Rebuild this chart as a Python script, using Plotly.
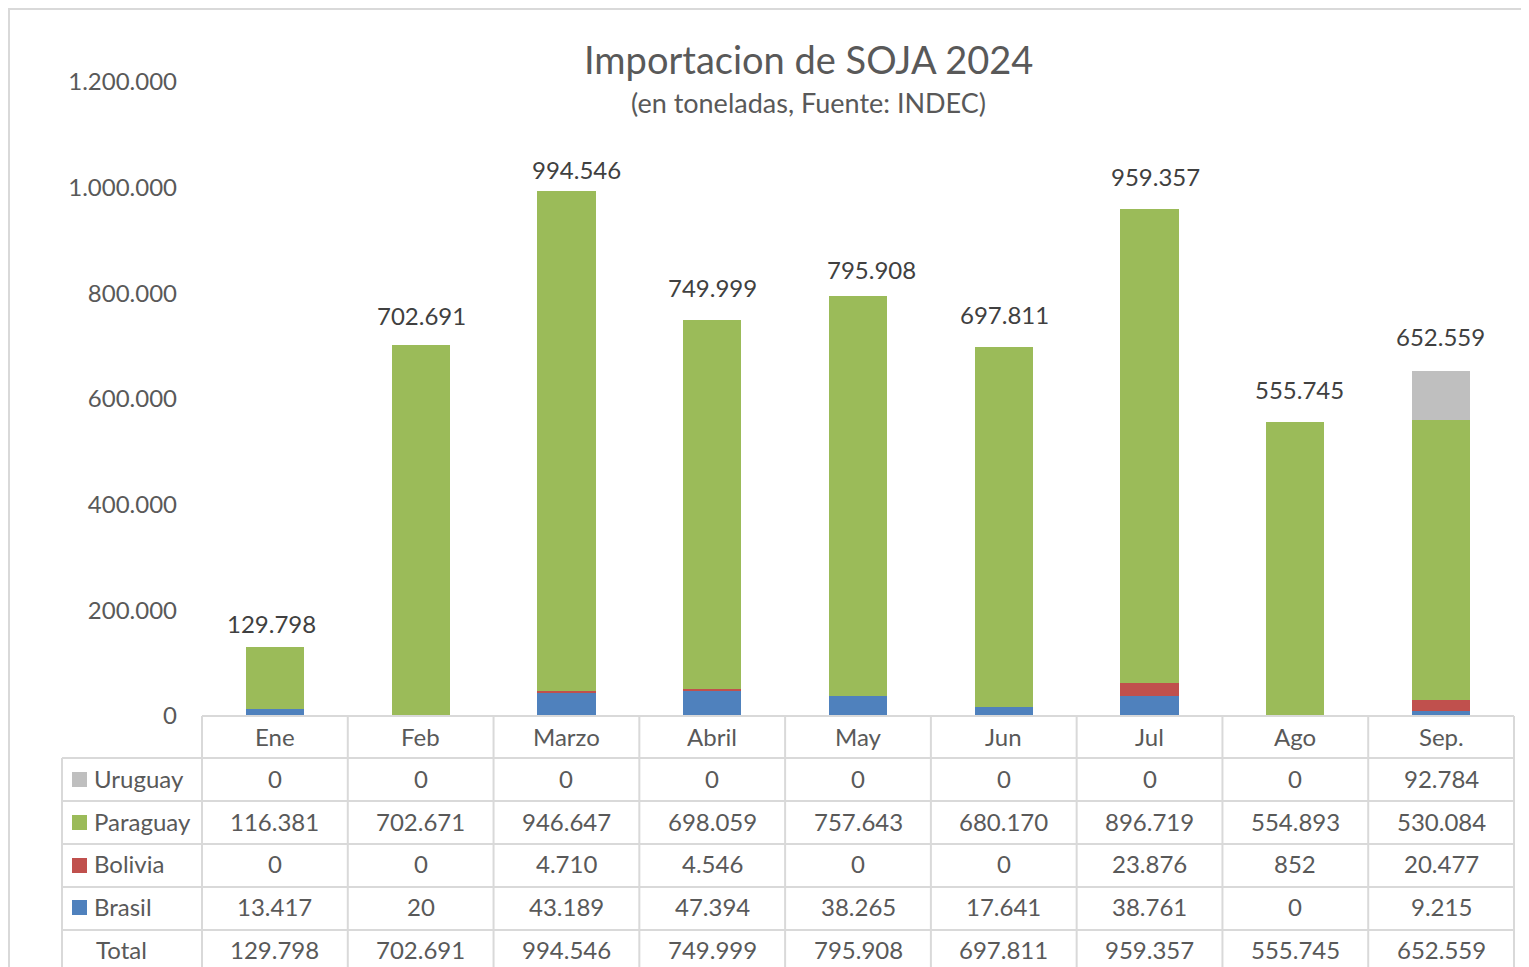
import plotly.graph_objects as go

meses = ["Ene", "Feb", "Marzo", "Abril", "May", "Jun", "Jul", "Ago", "Sep."]
brasil = [13417, 20, 43189, 47394, 38265, 17641, 38761, 0, 9215]
bolivia = [0, 0, 4710, 4546, 0, 0, 23876, 852, 20477]
paraguay = [116381, 702671, 946647, 698059, 757643, 680170, 896719, 554893, 530084]
uruguay = [0, 0, 0, 0, 0, 0, 0, 0, 92784]
total = [129798, 702691, 994546, 749999, 795908, 697811, 959357, 555745, 652559]

# hand-placed label nudges (px), as in the original chart
lbl_dx = [-3, 1, 10, 0, 13, 1, 6, 4, -1]
lbl_dy = [7, 13, 5, 16, 10, 16, 16, 16, 18]

# page has an 8px body margin, so the figure is drawn 8px in from the corner
OFF = 8
W, H = 1529 - OFF, 967 - OFF
X0, X1, YB, YT = 202, 1514, 716, 82
FONT = "Lato, 'Open Sans', sans-serif"
GRID = "#D9D9D9"


def px(x):
    return (x - X0) / (X1 - X0)


def py(y):
    return (YB - y) / (YB - YT)


def fmt(v):
    return f"{v:,}".replace(",", ".")


series = [
    ("Brasil", brasil, "#4F81BD"),
    ("Bolivia", bolivia, "#C0504D"),
    ("Paraguay", paraguay, "#9BBB59"),
    ("Uruguay", uruguay, "#BFBFBF"),
]

fig = go.Figure()
for name, vals, col in series:
    fig.add_trace(go.Bar(x=meses, y=vals, name=name, marker=dict(color=col, line=dict(width=0))))

shapes = []
ann = []

# outer chart border
shapes.append(dict(type="rect", xref="paper", yref="paper", x0=px(9), x1=px(1540),
                   y0=py(9), y1=py(1000), line=dict(color=GRID, width=2), layer="below"))

# totals above bars
for m, t, dx, dy in zip(meses, total, lbl_dx, lbl_dy):
    ann.append(dict(x=m, y=t, xref="x", yref="y", text=fmt(t), showarrow=False,
                    yanchor="bottom", xshift=dx, yshift=dy, font=dict(size=24, color="#404040")))

# data table
row_lines = [716, 758, 801, 844, 887, 930]
col_lines = [X0 + i * (X1 - X0) / 9 for i in range(10)]
shapes.append(dict(type="line", xref="paper", yref="paper", x0=px(X0), x1=px(X1),
                   y0=py(716), y1=py(716), line=dict(color=GRID, width=2)))
for y in row_lines[1:]:
    shapes.append(dict(type="line", xref="paper", yref="paper", x0=px(62), x1=px(X1),
                       y0=py(y), y1=py(y), line=dict(color=GRID, width=2)))
for x in col_lines:
    shapes.append(dict(type="line", xref="paper", yref="paper", x0=px(x), x1=px(x),
                       y0=py(716), y1=py(1000), line=dict(color=GRID, width=2)))
shapes.append(dict(type="line", xref="paper", yref="paper", x0=px(62), x1=px(62),
                   y0=py(758), y1=py(1000), line=dict(color=GRID, width=2)))

tfont = dict(size=24, color="#595959")
for m in meses:
    ann.append(dict(x=m, y=py(736), xref="x", yref="paper", text=m, showarrow=False,
                    xanchor="center", yanchor="middle", font=tfont))

rows = [("Uruguay", uruguay, "#BFBFBF", 778), ("Paraguay", paraguay, "#9BBB59", 821),
        ("Bolivia", bolivia, "#C0504D", 864), ("Brasil", brasil, "#4F81BD", 906)]
for name, vals, col, yc in rows:
    shapes.append(dict(type="rect", xref="paper", yref="paper", x0=px(72), x1=px(87),
                       y0=py(yc - 6), y1=py(yc + 9), fillcolor=col, line=dict(width=0)))
    ann.append(dict(x=px(92), y=py(yc), xref="paper", yref="paper", text=name, showarrow=False,
                    xanchor="left", yanchor="middle", font=tfont))
    for m, v in zip(meses, vals):
        ann.append(dict(x=m, y=py(yc), xref="x", yref="paper", text=fmt(v), showarrow=False,
                        xanchor="center", yanchor="middle", font=tfont))
ann.append(dict(x=px(121), y=py(949), xref="paper", yref="paper", text="Total", showarrow=False,
                xanchor="center", yanchor="middle", font=tfont))
for m, v in zip(meses, total):
    ann.append(dict(x=m, y=py(949), xref="x", yref="paper", text=fmt(v), showarrow=False,
                    xanchor="center", yanchor="middle", font=tfont))

# title
ann.append(dict(x=px(808), y=py(59), xref="paper", yref="paper", text="Importacion de SOJA 2024",
                showarrow=False, xanchor="center", yanchor="middle", font=dict(size=38, color="#595959")))
ann.append(dict(x=px(808), y=py(102), xref="paper", yref="paper", text="(en toneladas, Fuente: INDEC)",
                showarrow=False, xanchor="center", yanchor="middle", font=dict(size=27, color="#595959")))

fig.update_layout(
    width=W, height=H, barmode="stack", bargap=0.6, showlegend=False,
    margin=dict(l=X0 - OFF, r=1529 - X1, t=YT - OFF, b=967 - YB),
    paper_bgcolor="white", plot_bgcolor="white", separators=",.",
    font=dict(family=FONT, color="#595959"),
    shapes=shapes, annotations=ann,
)
fig.update_xaxes(showticklabels=False, showgrid=False, showline=False, zeroline=False, ticks="")
fig.update_yaxes(range=[0, 1200000], tickvals=[0, 200000, 400000, 600000, 800000, 1000000, 1200000],
                 tickformat=",d", showgrid=False, zeroline=False, showline=False,
                 tickfont=dict(size=24, color="#595959"), ticklabelstandoff=24)

fig.write_html("out.html")
